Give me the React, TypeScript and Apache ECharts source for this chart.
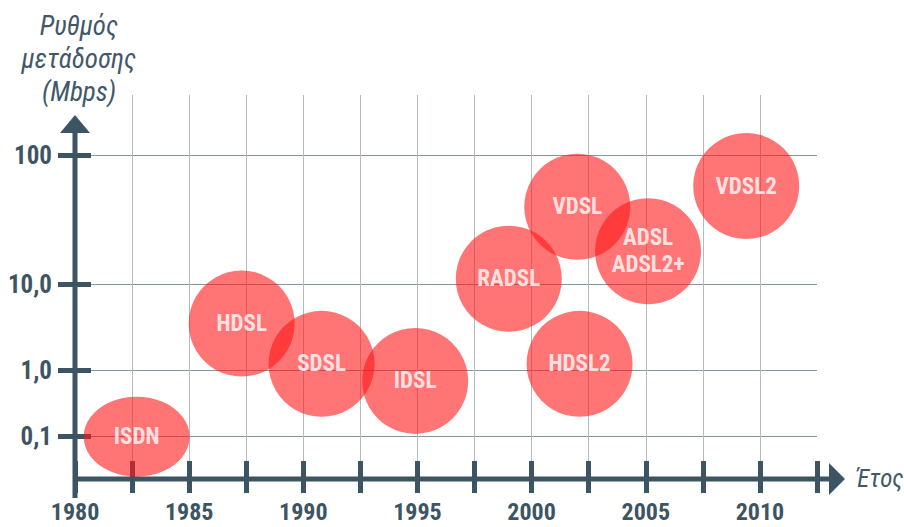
import React, { useEffect, useRef } from 'react';
import * as echarts from 'echarts';

// ---- data ----
const technologies = ['ISDN', 'HDSL', 'SDSL', 'IDSL', 'RADSL', 'VDSL', 'ADSL / ADSL2+', 'HDSL2', 'VDSL2'];
const bubbleLabels = ['ISDN', 'HDSL', 'SDSL', 'IDSL', 'RADSL', 'VDSL', 'ADSL\nADSL2+', 'HDSL2', 'VDSL2'];
const years = [1982.7, 1987.3, 1990.8, 1994.9, 1999.0, 2002.0, 2005.1, 2002.1, 2009.4];
const ratesMbps = [0.1, 3.5, 1.2, 0.7, 11, 40, 18, 1.2, 58];

const xMin = 1980;
const xMax = 2012.5;
const xInterval = 2.5;
const xLabelStep = 5;

const yTickRates = [0.1, 1, 10, 100];
const yTickLabels = ['0,1', '1,0', '10,0', '100'];

// the chart's own non-uniform rate scale: rate -> axis units (axis runs 0..384)
const yScaleRates = [0.1, 1, 10, 100];
const yScaleUnits = [42.3, 108.3, 195, 323.3];
const yAxisMax = 384;

const rateToUnit = (v: number) => {
  const lv = Math.log10(v);
  const ls = yScaleRates.map((r) => Math.log10(r));
  let i = 0;
  while (i < ls.length - 2 && lv > ls[i + 1]) i++;
  const t = (lv - ls[i]) / (ls[i + 1] - ls[i]);
  return yScaleUnits[i] + t * (yScaleUnits[i + 1] - yScaleUnits[i]);
};

// ---- styles ----
const FONT =
  "'Roboto Condensed', 'Liberation Sans Narrow', 'Noto Sans ExtraCondensed', 'Noto Sans Condensed', 'DejaVu Sans Condensed', sans-serif";
const AXIS = '#3d5463';
const GRID_LEFT = 75;
const GRID_RIGHT = 87;
const GRID_TOP = 95;
const GRID_BOTTOM = 48;
const W = 904;
const H = 527;
const AXIS_Y = H - GRID_BOTTOM;
const BUBBLE = 106;
const bubbleSizeOverride: Record<string, number[]> = { ISDN: [106, 80] };

export default function App() {
  const ref = useRef<HTMLDivElement>(null);
  useEffect(() => {
    document.body.style.margin = '0';
    if (!ref.current) return;
    const chart = echarts.init(ref.current, undefined, { renderer: 'svg' });
    const yTickUnits = yTickRates.map(rateToUnit);
    const unitLabel = (v: number) => {
      const i = yTickUnits.findIndex((u) => Math.abs(u - v) < 0.01);
      return i >= 0 ? yTickLabels[i] : '';
    };
    const tickStyle = { color: AXIS, width: 5 };
    const labelFont = { fontFamily: FONT, fontSize: 24, fontWeight: 'bold' as const, color: AXIS };
    const xBase = { type: 'value' as const, min: xMin, max: xMax, interval: xInterval, position: 'bottom' as const };
    const yBase = { type: 'value' as const, min: 0, max: yAxisMax, position: 'left' as const };

    chart.setOption({
      animation: false,
      grid: { left: GRID_LEFT, right: GRID_RIGHT, top: GRID_TOP, bottom: GRID_BOTTOM, containLabel: false },
      xAxis: [
        {
          ...xBase,
          axisLine: { show: false },
          axisTick: { show: false },
          axisLabel: {
            ...labelFont,
            margin: 21,
            lineHeight: 24,
            formatter: (v: number) => (Math.abs(v % xLabelStep) < 1e-6 ? String(v) : ''),
          },
          splitLine: { show: true, showMinLine: false, showMaxLine: false, lineStyle: { color: '#b3bcc3', width: 1 } },
        },
        {
          ...xBase,
          axisLine: { show: false },
          axisTick: { show: true, inside: true, length: 18, lineStyle: tickStyle },
          axisLabel: { show: false },
          splitLine: { show: false },
        },
        {
          ...xBase,
          axisLine: { show: false },
          axisTick: { show: true, inside: false, length: 14, lineStyle: tickStyle },
          axisLabel: { show: false },
          splitLine: { show: false },
        },
      ],
      yAxis: [
        {
          ...yBase,
          axisLine: { show: false },
          axisTick: { show: true, length: 17, customValues: yTickUnits, lineStyle: tickStyle },
          axisLabel: { ...labelFont, fontSize: 25, margin: 23, customValues: yTickUnits, formatter: unitLabel },
          splitLine: { show: true, lineStyle: { color: '#8796a1', width: 1 } },
        },
        {
          ...yBase,
          axisLine: { show: false },
          axisTick: { show: true, inside: true, length: 16, customValues: yTickUnits, lineStyle: tickStyle },
          axisLabel: { show: false },
          splitLine: { show: false },
        },
      ],
      series: [
        {
          type: 'scatter',
          xAxisIndex: 0,
          yAxisIndex: 0,
          z: 4,
          data: technologies.map((name, i) => ({
            name,
            value: [years[i], rateToUnit(ratesMbps[i])],
            symbolSize: bubbleSizeOverride[bubbleLabels[i]] || BUBBLE,
          })),
          itemStyle: { color: 'rgba(255, 20, 20, 0.74)' },
          label: {
            show: true,
            position: 'inside',
            formatter: (p: any) => bubbleLabels[p.dataIndex],
            color: '#ffffff',
            fontFamily: FONT,
            fontSize: 23,
            fontWeight: 'bold',
            lineHeight: 27,
            align: 'center',
          },
          emphasis: { disabled: true },
        },
      ],
      graphic: [
        {
          type: 'line',
          z: 3,
          shape: { x1: GRID_LEFT, y1: AXIS_Y + 19, x2: GRID_LEFT, y2: 130 },
          style: { stroke: AXIS, lineWidth: 5 },
        },
        {
          type: 'polygon',
          z: 3,
          shape: { points: [[GRID_LEFT - 15, 133], [GRID_LEFT + 15, 133], [GRID_LEFT, 115]] },
          style: { fill: AXIS },
        },
        {
          type: 'line',
          z: 3,
          shape: { x1: GRID_LEFT - 2, y1: AXIS_Y, x2: 831, y2: AXIS_Y },
          style: { stroke: AXIS, lineWidth: 5 },
        },
        {
          type: 'polygon',
          z: 3,
          shape: { points: [[829, AXIS_Y - 16], [829, AXIS_Y + 16], [845, AXIS_Y]] },
          style: { fill: AXIS },
        },
        {
          type: 'text',
          z: 3,
          x: 79,
          y: 9,
          style: {
            text: 'Ρυθμός\nμετάδοσης\n(Mbps)',
            fontFamily: FONT,
            fontSize: 27,
            fontStyle: 'italic',
            fill: '#415868',
            align: 'center',
            textAlign: 'center',
            verticalAlign: 'top',
            textVerticalAlign: 'top',
            lineHeight: 33,
          },
        },
        {
          type: 'text',
          z: 3,
          x: 856,
          y: AXIS_Y - 1,
          style: {
            text: 'Έτος',
            fontFamily: FONT,
            fontSize: 25,
            fontStyle: 'italic',
            fill: '#415868',
            align: 'left',
            textAlign: 'left',
            verticalAlign: 'middle',
            textVerticalAlign: 'middle',
          },
        },
      ],
    });
    return () => chart.dispose();
  }, []);
  return <div ref={ref} style={{ width: W, height: H }} />;
}
